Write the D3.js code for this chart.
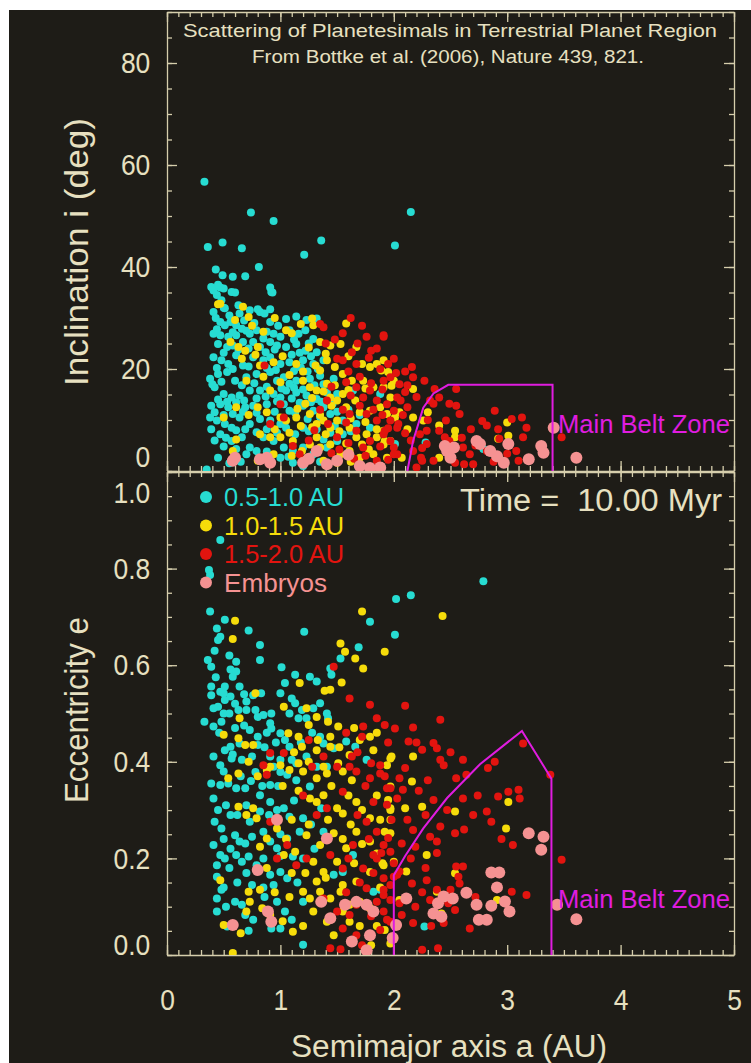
<!DOCTYPE html>
<html>
<head>
<meta charset="utf-8">
<script src="https://cdn.jsdelivr.net/npm/d3@7"></script>
<style>
  body { margin: 0; background: #fff; }
  text { font-family: "Liberation Sans", Arial, sans-serif; }
</style>
</head>
<body>
<script>
// ---- data (a in AU, i in deg, e), flat [a, y, a, y, ...] ----
var cyanInc = [
0.33,56.7, 0.74,50.7, 0.94,49.0, 0.36,43.9, 0.49,44.8, 0.66,43.7, 1.21,42.4, 1.36,45.2, 2.01,44.2, 2.15,50.8,
0.43,39.5, 0.81,40.0, 0.49,38.4, 0.58,38.1, 0.69,38.2, 0.41,35.4, 0.47,36.0, 0.60,35.0, 0.91,36.0, 0.93,35.0,
0.50,32.0, 0.80,31.7, 0.91,31.7, 0.39,36.1, 0.45,36.5, 0.50,35.8, 0.57,35.1, 0.44,34.5, 0.48,33.5, 0.92,35.1,
0.41,31.2, 0.51,31.9, 0.63,32.5, 0.64,30.9, 0.73,31.5, 0.82,31.2, 0.86,30.9, 0.91,29.2, 1.14,30.3, 1.23,29.6,
1.32,29.9, 0.47,29.2, 0.51,28.6, 0.56,29.2, 0.61,28.6, 0.66,27.9, 0.41,26.9, 0.47,26.6, 0.54,26.3, 0.61,26.6,
0.73,26.9, 0.79,27.6, 0.88,27.3, 0.94,26.9, 1.00,26.3, 1.08,27.6, 1.16,26.9, 1.22,27.6, 1.29,25.9, 0.45,24.9,
0.53,24.3, 0.58,24.6, 0.67,25.3, 0.76,25.3, 0.82,24.3, 0.91,25.3, 0.97,24.6, 1.05,24.3, 1.14,24.9, 1.22,23.6,
1.32,23.3, 0.41,22.3, 0.48,21.7, 0.54,21.0, 0.61,22.7, 0.67,20.7, 0.76,22.3, 0.85,21.7, 0.91,22.3, 1.00,21.0,
1.08,21.3, 1.20,21.7, 1.29,21.0, 1.38,21.7, 0.38,18.1, 0.45,19.0, 0.53,19.4, 0.60,17.7, 0.70,18.4, 0.79,19.0,
0.91,19.4, 0.97,17.7, 1.03,18.4, 1.08,17.1, 1.14,17.7, 1.26,18.1, 1.35,18.7, 1.47,18.1, 0.42,16.4, 0.50,15.1,
0.57,14.4, 0.64,14.8, 0.73,15.8, 0.82,15.8, 0.94,15.1, 1.00,14.4, 1.05,15.8, 1.14,15.4, 1.23,14.8, 1.32,14.1,
1.41,15.4, 1.50,15.1, 1.64,15.8, 1.79,16.4, 0.39,12.8, 0.47,13.1, 0.54,12.5, 0.61,13.5, 0.69,12.5, 0.76,12.8,
0.88,13.1, 1.03,13.1, 1.08,11.8, 1.20,12.8, 1.29,11.8, 1.38,12.5, 1.44,11.2, 1.55,9.9, 1.67,9.2, 1.79,8.5,
0.38,10.5, 0.44,9.9, 0.51,9.2, 0.57,8.5, 0.64,10.5, 0.73,9.2, 0.82,10.2, 0.91,9.9, 1.00,9.2, 1.05,8.5,
1.20,8.5, 1.32,8.2, 1.44,7.5, 1.55,7.2, 0.39,8.2, 0.47,7.2, 0.57,5.9, 0.66,6.6, 0.73,4.6, 0.85,6.6,
0.94,5.9, 1.03,4.6, 1.11,3.9, 1.20,4.6, 1.29,3.3, 1.41,4.6, 1.50,5.9, 0.45,2.6, 0.61,4.3, 0.70,3.3,
0.79,3.9, 1.00,2.6, 1.11,1.6, 1.20,1.0, 0.35,0.3, 1.88,15.1, 2.01,5.3, 2.28,5.6, 2.79,4.3, 1.60,12.0,
1.70,11.0,
0.43,30.0, 0.55,30.5, 0.68,29.5, 0.77,29.0, 0.98,28.5, 1.05,29.8, 0.44,27.8, 0.58,27.2, 0.70,27.5, 0.85,26.0,
1.12,25.8, 1.25,25.0, 0.50,23.2, 0.63,23.8, 0.72,24.0, 0.87,23.3, 0.95,23.8, 1.10,22.8, 1.17,23.2, 1.27,22.5,
0.44,20.2, 0.58,20.0, 0.72,20.5, 0.88,20.2, 0.96,19.8, 1.12,19.6, 1.18,20.3, 1.24,19.5, 1.33,20.0, 0.40,17.0,
0.48,17.5, 0.66,16.8, 0.77,17.2, 0.88,16.5, 1.01,16.2, 1.12,16.3, 1.20,16.0, 1.30,16.8, 1.38,17.0, 0.45,14.0,
0.53,13.6, 0.68,13.8, 0.79,14.2, 0.87,14.6, 0.97,13.7, 1.10,14.2, 1.17,13.4, 1.27,13.5, 1.36,13.6, 1.46,13.2,
0.42,11.5, 0.50,11.0, 0.58,11.2, 0.67,11.6, 0.79,11.4, 0.95,11.6, 1.13,11.4, 1.24,10.2, 1.35,10.6, 1.50,11.6,
0.42,6.0, 0.52,6.5, 0.61,8.0, 0.69,8.2, 0.79,7.6, 0.88,8.2, 0.97,7.5, 1.13,7.2, 1.25,7.8, 1.38,6.2,
0.50,4.8, 0.55,1.5, 0.65,1.8, 0.88,3.8, 1.07,2.8, 1.35,1.8, 1.48,8.8, 1.62,7.8
];
var yellowInc = [
0.45,32.7, 0.67,32.2, 0.47,32.8, 0.72,30.2, 0.56,25.3, 0.63,24.3, 0.69,23.6, 0.80,24.3, 0.82,20.7, 0.85,27.3,
0.94,21.3, 1.05,27.6, 1.28,29.9, 1.29,28.6, 1.35,25.3, 1.44,24.6, 1.53,24.9, 1.58,28.9, 1.67,24.3, 1.72,21.0,
1.79,20.4, 1.85,21.0, 1.91,21.7, 1.95,19.4, 2.00,17.7, 1.31,20.7, 1.35,19.7, 1.41,21.7, 1.48,20.4, 1.55,19.0,
1.63,17.7, 1.73,17.7, 1.82,16.4, 1.91,16.4, 1.97,14.4, 0.70,17.7, 0.91,15.8, 1.00,17.4, 1.20,17.7, 1.26,16.4,
1.32,15.8, 1.41,17.1, 1.44,14.4, 1.50,13.8, 1.55,15.1, 1.58,12.5, 1.66,13.8, 1.70,11.5, 1.79,11.8, 1.88,12.5,
1.94,11.2, 2.01,10.5, 0.50,10.5, 0.61,12.5, 0.80,12.5, 0.88,11.5, 1.00,10.5, 1.05,9.9, 1.14,10.5, 1.26,11.2,
1.32,9.2, 1.38,9.9, 1.44,8.5, 1.50,9.9, 1.61,8.5, 1.67,6.6, 1.76,7.2, 1.85,6.6, 1.91,5.2, 1.97,5.9,
0.61,6.2, 0.82,7.2, 0.91,6.6, 0.94,3.3, 1.00,6.6, 1.11,5.9, 1.19,3.9, 1.26,5.2, 1.32,6.6, 1.35,4.6,
1.44,5.2, 1.53,3.3, 1.61,3.9, 1.70,2.6, 1.82,3.3, 1.94,2.6, 0.58,3.9, 0.80,2.0, 1.38,2.0, 1.50,1.6,
1.88,1.0, 1.89,19.7, 1.98,16.7, 2.17,16.1, 2.05,11.5, 2.17,10.5, 2.26,9.9, 2.30,11.5, 2.40,8.9, 2.54,7.9,
2.54,6.6, 3.00,9.5, 3.01,6.9, 2.92,6.3, 1.92,5.9, 2.07,2.6, 2.40,2.6, 1.91,7.9,
0.60,29.6, 0.75,28.5, 0.95,30.0, 1.10,27.0, 1.18,28.8, 0.66,22.0, 0.78,22.8, 1.02,22.5, 1.14,21.0, 1.25,24.2,
1.40,23.0, 1.60,22.5, 1.20,19.5, 1.08,18.8, 0.85,18.5, 1.28,14.3, 1.38,15.6, 1.48,16.8, 1.60,15.9, 1.75,16.2,
1.15,12.2, 1.22,13.2, 1.35,11.0, 1.45,12.8, 1.62,10.3, 1.75,9.6, 1.85,8.2, 0.72,11.0, 0.95,8.2, 1.08,7.5,
1.18,8.8, 1.28,8.6, 1.40,7.2, 1.52,7.8, 1.58,5.4, 1.72,5.2, 1.10,3.0, 1.22,2.2, 1.62,1.8, 1.78,4.2,
2.12,8.2
];
var redInc = [
1.38,28.2, 1.76,26.3, 1.91,26.6, 1.80,23.6, 1.63,23.3, 1.50,22.0, 1.55,21.7, 1.67,21.0, 0.86,20.7, 1.91,17.7,
1.79,15.8, 1.67,16.4, 1.58,17.4, 1.41,13.8, 1.73,14.4, 1.85,13.8, 1.94,13.1, 2.03,14.4, 1.76,11.2, 1.85,9.9,
1.97,9.9, 2.03,8.5, 1.61,11.2, 1.67,7.9, 1.79,5.9, 1.91,7.2, 2.00,4.6, 1.73,4.6, 1.85,2.0, 2.03,3.3,
1.11,4.9, 1.17,3.3, 1.50,6.6, 1.03,10.5, 1.00,13.1, 0.91,9.2, 1.35,28.8,
1.55,27.0, 1.62,30.0, 1.72,28.5, 1.40,25.0, 1.85,24.0, 2.00,22.0, 2.10,19.5, 1.95,21.0, 1.60,19.5, 1.70,18.5,
1.45,16.5, 1.55,12.0, 1.90,16.0, 2.10,15.5, 2.05,17.0, 1.35,12.0, 1.30,8.0, 1.25,6.0, 1.60,5.5, 1.75,3.0,
1.45,3.5, 1.90,11.0, 2.12,12.5, 2.15,6.0, 2.25,4.5,
1.91,26.3, 2.16,20.4, 2.17,18.4, 2.27,17.7, 2.36,16.1, 2.55,16.1, 2.40,14.4, 2.49,13.2, 2.55,12.8, 2.35,13.2,
2.58,11.2, 2.46,9.9, 2.68,8.2, 2.89,11.8, 2.82,8.9, 2.92,8.2, 3.04,10.2, 3.13,10.5, 3.17,8.5, 3.14,6.6,
3.48,6.6, 2.61,4.6, 2.67,3.3, 2.62,1.3, 2.54,1.6, 2.70,1.3, 2.82,3.9, 2.93,6.3, 3.08,3.9, 3.10,2.0,
2.29,5.3, 2.23,7.2, 2.29,7.9, 2.40,7.9, 2.45,6.6, 2.49,5.9, 2.17,3.9, 2.24,2.6, 2.35,2.0, 2.20,0.7,
1.97,18.4, 2.06,13.8, 2.00,11.8, 2.04,9.2, 1.92,7.9, 1.97,5.9, 2.00,3.3,
1.48,25.8, 1.68,25.0, 1.78,22.2, 1.88,20.0, 2.02,19.2, 1.62,14.8, 1.80,17.2, 1.70,12.8, 1.82,12.0, 2.08,11.0,
1.95,8.4, 1.88,4.8, 1.95,2.2, 1.65,2.4, 1.58,9.5, 2.10,7.4, 2.30,10.0, 2.32,13.8, 2.20,14.5, 2.12,16.8,
2.25,2.0, 2.60,6.5, 2.72,5.0, 2.78,9.8, 3.00,3.4, 2.88,1.8, 1.42,9.2, 1.52,4.2
];
var embryoInc = [
0.60,2.6, 0.58,2.0, 0.82,2.3, 0.88,2.6, 0.91,1.6, 1.20,1.6, 1.25,2.4, 1.32,3.9, 1.41,1.3, 1.50,2.0,
1.60,3.2, 1.70,1.0, 1.79,0.6, 1.88,0.7, 2.45,4.9, 2.47,3.9, 2.50,2.6, 2.53,4.6, 2.73,5.9, 2.76,5.3,
2.85,3.9, 2.91,2.9, 2.97,1.6, 3.01,5.3, 3.19,2.3, 3.30,4.9, 3.32,3.6, 3.41,8.5, 3.61,2.6
];

var cyanEcc = [
0.47,0.859, 0.37,0.797, 0.38,0.787, 2.79,0.774, 2.02,0.737, 2.15,0.745,
0.38,0.711, 0.51,0.694, 0.44,0.676, 0.47,0.659, 0.45,0.652, 0.72,0.672, 0.82,0.642, 0.82,0.611, 0.36,0.611, 0.39,0.597,
0.61,0.607, 0.56,0.591, 0.61,0.587, 0.58,0.576, 1.01,0.596, 1.13,0.580, 1.26,0.576, 1.32,0.566, 1.44,0.593, 1.45,0.580,
1.53,0.614, 1.69,0.637, 1.79,0.690, 2.01,0.663, 1.21,0.669, 0.39,0.556, 0.51,0.556, 0.39,0.538, 0.50,0.542,
0.64,0.556, 0.56,0.535, 0.51,0.528, 0.45,0.514, 0.41,0.511, 0.70,0.525, 0.83,0.542, 0.76,0.538, 1.00,0.542, 1.04,0.563,
1.10,0.531, 1.13,0.521, 1.19,0.507, 0.33,0.483, 0.41,0.473, 0.50,0.500, 0.48,0.483, 0.63,0.507, 0.70,0.507, 0.78,0.507,
0.80,0.493, 0.85,0.497, 0.91,0.480, 0.92,0.500, 0.73,0.466, 0.80,0.452, 0.92,0.469, 1.08,0.500, 1.16,0.490, 1.23,0.490,
1.29,0.511, 1.35,0.521, 1.41,0.500, 1.42,0.490, 0.56,0.431, 0.51,0.424, 0.64,0.438, 0.80,0.435, 1.00,0.459, 1.04,0.445,
1.08,0.431, 1.35,0.452, 1.38,0.438, 1.58,0.442, 1.66,0.431, 1.47,0.428, 0.41,0.411, 0.47,0.393, 0.57,0.407, 0.66,0.404,
0.75,0.411, 0.91,0.411, 1.00,0.404, 1.10,0.404, 1.14,0.397, 1.23,0.411, 1.32,0.390, 1.41,0.390, 1.76,0.404,
0.39,0.355, 0.47,0.352, 0.54,0.355, 0.61,0.345, 0.69,0.345, 0.41,0.324, 0.42,0.276, 0.48,0.262, 0.56,0.290, 0.60,0.248,
0.64,0.235, 0.41,0.228, 0.47,0.207, 0.44,0.186, 0.51,0.200, 0.61,0.207, 0.66,0.193, 0.72,0.204, 0.79,0.186, 0.82,0.297,
0.82,0.331, 0.91,0.352, 0.78,0.379, 0.94,0.390, 1.00,0.379, 1.06,0.373, 1.14,0.362, 1.26,0.349, 0.91,0.317, 1.03,0.304,
1.08,0.286, 1.20,0.283, 1.17,0.255, 1.06,0.241, 0.97,0.221, 0.85,0.255, 0.73,0.276, 0.69,0.231, 1.11,0.204, 1.20,0.200,
1.00,0.172, 0.91,0.166, 0.94,0.145, 1.06,0.159, 1.36,0.304, 1.38,0.255, 1.47,0.166, 1.55,0.172, 1.64,0.207, 0.44,0.162,
0.48,0.135, 0.44,0.117, 0.44,0.090, 0.60,0.110, 0.66,0.104, 0.69,0.083, 0.76,0.073, 0.53,0.059, 1.04,0.090, 1.10,0.073,
1.00,0.055, 1.20,0.021, 0.92,0.055, 1.82,0.131, 1.88,0.135, 2.27,0.059,
0.42,0.630, 0.55,0.620, 0.43,0.575, 0.47,0.545, 0.60,0.520, 0.68,0.540, 0.55,0.500, 0.46,0.460, 0.60,0.470, 0.68,0.475,
0.88,0.460, 0.96,0.440, 0.58,0.415, 0.86,0.430, 1.18,0.440, 1.28,0.460, 0.50,0.380, 0.65,0.370, 0.74,0.360, 0.84,0.350,
0.98,0.350, 0.45,0.300, 0.52,0.310, 0.62,0.290, 0.70,0.310, 0.90,0.290, 0.97,0.300, 1.12,0.320, 0.50,0.240, 0.56,0.220,
0.75,0.245, 0.91,0.235, 1.00,0.250, 1.27,0.270, 0.55,0.180, 0.70,0.170, 0.85,0.200, 1.00,0.205, 1.30,0.220, 0.50,0.140,
0.62,0.150, 0.75,0.145, 0.85,0.140, 1.15,0.150, 0.52,0.100, 0.72,0.050, 0.86,0.120, 0.97,0.110, 1.20,0.110
];
var yellowEcc = [
2.43,0.702, 0.60,0.692, 0.58,0.654, 1.72,0.711, 1.53,0.645, 1.57,0.628, 1.66,0.614, 1.73,0.593, 1.92,0.628, 1.44,0.549,
1.39,0.547, 1.54,0.564, 1.17,0.563, 0.78,0.542, 1.03,0.514, 1.23,0.511, 1.32,0.493, 1.42,0.483, 0.64,0.490, 0.50,0.456,
0.63,0.449, 0.69,0.435, 0.76,0.435, 1.07,0.459, 1.16,0.452, 1.19,0.431, 1.25,0.476, 1.33,0.445, 1.44,0.452, 1.51,0.473,
1.70,0.445, 1.79,0.452, 1.32,0.424, 1.44,0.431, 1.51,0.397, 1.61,0.414, 1.82,0.424, 1.97,0.407, 1.94,0.393, 0.91,0.390,
1.00,0.393, 1.16,0.397,
0.54,0.366, 0.63,0.376, 0.88,0.383, 1.08,0.383, 1.20,0.380, 1.32,0.366, 1.41,0.376, 1.55,0.380, 1.63,0.362, 1.26,0.324,
1.32,0.317, 1.50,0.304, 1.55,0.293, 1.38,0.331, 1.67,0.317, 1.79,0.283, 1.97,0.304, 1.92,0.255, 1.79,0.235, 1.67,0.255,
1.58,0.221, 1.47,0.252, 1.35,0.228, 1.23,0.248, 0.82,0.224, 0.79,0.283, 0.88,0.241, 0.97,0.262, 0.63,0.307, 0.70,0.290,
0.76,0.304, 1.03,0.207, 1.13,0.214, 1.29,0.193, 1.38,0.172, 1.50,0.193, 1.55,0.145, 1.67,0.152, 1.79,0.172, 1.91,0.186,
1.32,0.152, 1.20,0.131, 1.26,0.117, 1.35,0.131, 1.44,0.117, 1.53,0.131, 1.61,0.104, 1.70,0.110, 1.79,0.097, 0.72,0.131,
0.82,0.135, 0.73,0.110, 0.70,0.090, 0.50,0.062, 0.58,0.062, 0.84,0.097, 0.91,0.083, 1.11,0.048, 1.29,0.090, 1.41,0.069,
1.61,0.069, 1.47,0.041, 0.47,0.155, 0.58,0.004, 1.80,0.020,
1.98,0.411, 2.17,0.411, 2.16,0.359, 1.97,0.349, 1.95,0.321, 2.10,0.304, 1.97,0.300, 2.25,0.307, 2.54,0.297,
1.97,0.280, 1.97,0.252, 2.29,0.207, 2.00,0.193, 1.90,0.190, 2.11,0.173, 2.54,0.169, 3.01,0.317, 2.99,0.262, 2.38,0.131,
2.42,0.086, 2.91,0.114, 2.05,0.114, 1.92,0.052, 1.97,0.024,
0.72,0.400, 0.80,0.370, 1.12,0.420, 1.25,0.400, 1.38,0.390, 1.52,0.430, 1.65,0.470, 1.85,0.460, 1.02,0.350, 1.16,0.340,
1.45,0.350, 1.60,0.330, 1.72,0.300, 1.85,0.330, 1.10,0.280, 1.25,0.270, 1.42,0.280, 1.62,0.270, 1.88,0.280, 1.05,0.240,
1.55,0.240, 1.72,0.230, 1.10,0.170, 1.22,0.170, 1.65,0.190, 1.85,0.210, 0.88,0.180, 0.95,0.130, 1.08,0.120, 1.40,0.160,
1.88,0.140, 1.02,0.070, 1.20,0.060, 1.55,0.090, 1.70,0.060, 0.65,0.045, 1.85,0.060
];
var redEcc = [
1.47,0.597, 1.61,0.531, 1.79,0.518, 1.73,0.473, 1.92,0.476, 2.01,0.469, 1.72,0.452, 0.91,0.418, 1.03,0.418, 1.25,0.445,
1.38,0.411, 1.63,0.411, 1.80,0.397, 1.88,0.393, 1.50,0.390, 1.61,0.390, 1.28,0.390, 0.85,0.393,
0.88,0.373, 1.67,0.380, 1.79,0.366, 1.88,0.376, 1.97,0.345, 1.55,0.338, 1.41,0.304, 1.82,0.317, 1.94,0.311, 2.03,0.324,
1.76,0.276, 1.85,0.255, 1.64,0.228, 1.91,0.228, 1.85,0.200, 1.97,0.214, 1.06,0.228, 0.91,0.276, 1.23,0.200, 1.44,0.207,
1.55,0.179, 1.73,0.179, 1.82,0.207, 1.91,0.159, 1.97,0.145, 2.03,0.166, 1.76,0.138, 1.85,0.110, 1.91,0.124, 1.67,0.104,
1.50,0.090, 1.61,0.083, 1.91,0.090, 1.97,0.069, 1.88,0.052, 1.55,0.055, 1.67,0.041, 1.44,0.014, 1.38,0.117, 1.14,0.186,
0.97,0.200, 1.53,0.012,
2.10,0.516, 2.41,0.487, 2.17,0.471, 2.13,0.442, 2.35,0.439, 2.38,0.428, 2.25,0.425, 2.41,0.404,
2.44,0.393, 2.61,0.404, 2.89,0.400, 2.83,0.387, 2.64,0.373, 2.55,0.366, 2.30,0.362, 2.10,0.387, 2.05,0.366, 1.94,0.345,
2.08,0.342, 2.35,0.321, 2.61,0.324, 2.92,0.328, 3.01,0.338, 3.10,0.342, 3.11,0.324, 2.47,0.300, 2.70,0.290, 2.82,0.297,
2.86,0.276, 2.41,0.266, 2.54,0.252, 2.32,0.245, 2.38,0.235, 2.17,0.259, 2.19,0.224, 1.95,0.242, 1.89,0.211, 2.07,0.231,
2.38,0.211, 3.05,0.228, 3.48,0.197, 2.55,0.183, 2.61,0.183, 2.05,0.173, 2.00,0.162, 2.16,0.148, 2.29,0.155, 2.38,0.135,
2.50,0.135, 2.57,0.162, 2.58,0.148, 3.04,0.131, 3.17,0.124, 2.32,0.114, 2.48,0.107, 2.54,0.093, 2.44,0.066, 2.67,0.055,
1.91,0.135, 1.97,0.114, 2.05,0.107, 2.07,0.083, 2.19,0.100, 2.17,0.066, 1.94,0.073, 2.25,0.011, 2.39,0.014, 3.14,0.438,
3.38,0.373,
1.58,0.460, 1.85,0.490, 1.68,0.420, 1.95,0.440, 1.75,0.350, 1.92,0.370, 1.68,0.290, 1.98,0.280, 1.78,0.240, 1.60,0.200,
1.70,0.150, 1.82,0.170, 2.00,0.190, 1.58,0.130, 1.80,0.080, 1.72,0.020, 2.12,0.280, 2.22,0.340, 2.28,0.290, 2.15,0.200,
2.28,0.180, 2.33,0.060, 2.62,0.260, 2.74,0.330, 2.95,0.240, 2.20,0.440, 2.50,0.420, 2.72,0.120, 2.25,0.130, 1.32,0.290,
1.20,0.330
];
var embryoEcc = [
0.97,0.280, 0.80,0.176, 0.89,0.090, 0.92,0.069, 0.58,0.062, 1.36,0.110, 1.44,0.076, 1.57,0.104, 1.67,0.110, 1.76,0.104,
1.82,0.090, 1.63,0.028, 1.76,0.010, 1.79,0.041, 1.41,0.241,
3.19,0.252, 3.32,0.245, 3.30,0.218, 2.86,0.171, 2.93,0.171, 2.91,0.140, 2.64,0.129, 2.73,0.104, 2.86,0.102, 2.98,0.111,
3.02,0.090, 2.39,0.107, 2.44,0.121, 2.52,0.117, 2.35,0.086, 2.42,0.079, 2.11,0.117, 2.02,0.062, 1.99,0.035, 2.75,0.073,
2.82,0.073, 3.44,0.104, 3.61,0.074
];

// main belt zone outlines
var beltInc = [2.12,0, 2.17,5.9, 2.26,12.4, 2.35,15.2, 2.48,16.9, 3.40,16.9, 3.40,0];
var beltEcc = [2.00,0, 2.00,0.165, 2.10,0.205, 2.26,0.262, 2.47,0.325, 2.76,0.395, 3.13,0.464, 3.39,0.365, 3.39,0];

var incTicks = [0, 20, 40, 60, 80];
var eccTicks = [0, 0.2, 0.4, 0.6, 0.8, 1.0];
var aTicks = [0, 1, 2, 3, 4, 5];

var legendLabels = ["0.5-1.0 AU", "1.0-1.5 AU", "1.5-2.0 AU", "Embryos"];
var colors = ["#27dcd2", "#f6dc0a", "#e2140f", "#f59292"];

// ---- layout ----
var width = 751, height = 1063;
var left = 167, right = 734;
var ink = "#e7e0c0", axisInk = "#d6ceac", magenta = "#e01ce0";

function pairs(flat) {
	return d3.range(0, flat.length, 2).map(k => [flat[k], flat[k + 1]]);
}

var svg = d3.select("body").append("svg")
	.attr("width", width)
	.attr("height", height);

svg.append("rect").attr("width", width).attr("height", height).attr("fill", "#fff");
svg.append("rect").attr("x", 9).attr("y", 10)
	.attr("width", width - 9).attr("height", height - 10)
	.attr("fill", "#1e1c17");

var x = d3.scaleLinear().domain([0, 5]).range([left, right]);
var yI = d3.scaleLinear().domain([0, 90]).range([471, 12]);
var yE = d3.scaleLinear().domain([0, 1]).range([955, 472]);

// clip paths for the two panels
var defs = svg.append("defs");
defs.append("clipPath").attr("id", "clipTop").append("rect")
	.attr("x", left).attr("y", 12).attr("width", right - left).attr("height", 459);
defs.append("clipPath").attr("id", "clipBot").append("rect")
	.attr("x", left).attr("y", 472).attr("width", right - left).attr("height", 483);

function styleAxis(g) {
	g.selectAll("path, line").attr("stroke", axisInk).attr("stroke-width", 1.3);
	g.selectAll("text").attr("fill", ink).style("font-size", "30px")
		.attr("transform", "scale(0.88,1)")
		.style("font-family", "Liberation Sans, Arial, sans-serif");
}

// draws the frame of one panel: inward ticks all round
function frame(yScale, majors, minors, yTop, yBot, fmt, labelX) {
	var g = svg.append("g");

	var lMaj = g.append("g").attr("transform", `translate(${left},0)`)
		.call(d3.axisLeft(yScale).tickValues(majors).tickSizeInner(-10).tickSizeOuter(0)
			.tickPadding(19).tickFormat(fmt));
	g.append("g").attr("transform", `translate(${left},0)`)
		.call(d3.axisLeft(yScale).tickValues(minors).tickSize(-5).tickFormat(""))
		.select(".domain").remove();
	g.append("g").attr("transform", `translate(${right},0)`)
		.call(d3.axisRight(yScale).tickValues(majors).tickSizeInner(-10).tickSizeOuter(0).tickFormat(""));
	g.append("g").attr("transform", `translate(${right},0)`)
		.call(d3.axisRight(yScale).tickValues(minors).tickSize(-5).tickFormat(""))
		.select(".domain").remove();

	var xMinor = d3.range(0, 50.5, 1).map(v => v / 10);
	g.append("g").attr("transform", `translate(0,${yTop})`)
		.call(d3.axisTop(x).tickValues(aTicks).tickSizeInner(-10).tickSizeOuter(0).tickFormat(""));
	g.append("g").attr("transform", `translate(0,${yTop})`)
		.call(d3.axisTop(x).tickValues(xMinor).tickSize(-5).tickFormat(""))
		.select(".domain").remove();
	var bMaj = g.append("g").attr("transform", `translate(0,${yBot})`)
		.call(d3.axisBottom(x).tickValues(aTicks).tickSizeInner(-10).tickSizeOuter(0)
			.tickPadding(34).tickFormat(labelX ? d3.format("d") : ""));
	g.append("g").attr("transform", `translate(0,${yBot})`)
		.call(d3.axisBottom(x).tickValues(xMinor).tickSize(-5).tickFormat(""))
		.select(".domain").remove();

	g.call(styleAxis);
	return {g: g, left: lMaj, bottom: bMaj};
}

var topFrame = frame(yI, incTicks, d3.range(0, 91, 5), 12, 471, d3.format("d"), false);
var botFrame = frame(yE, eccTicks, d3.range(0, 21, 1).map(v => v / 20), 472, 955, d3.format(".1f"), true);

// IDL nudges the edge labels inside the panel
topFrame.left.selectAll(".tick text").filter(d => d === 0).attr("dy", "-0.15em");
botFrame.left.selectAll(".tick text").filter(d => d === 1).attr("dy", "1.02em");
botFrame.left.selectAll(".tick text").filter(d => d === 0).attr("dy", "-0.02em");

// ---- points ----
function drawDots(clip, flat, yScale, color, r) {
	svg.append("g").attr("clip-path", `url(#${clip})`)
		.selectAll("circle")
		.data(pairs(flat))
		.join("circle")
			.attr("cx", d => x(d[0]))
			.attr("cy", d => yScale(d[1]))
			.attr("r", r)
			.attr("fill", color);
}

drawDots("clipTop", cyanInc, yI, colors[0], 4);
drawDots("clipTop", yellowInc, yI, colors[1], 4);
drawDots("clipTop", redInc, yI, colors[2], 4);
drawDots("clipTop", embryoInc, yI, colors[3], 6);

drawDots("clipBot", cyanEcc, yE, colors[0], 4);
drawDots("clipBot", yellowEcc, yE, colors[1], 4);
drawDots("clipBot", redEcc, yE, colors[2], 4);
drawDots("clipBot", embryoEcc, yE, colors[3], 6);

// ---- main belt zone ----
svg.append("path").datum(pairs(beltInc))
	.attr("d", d3.line().x(d => x(d[0])).y(d => yI(d[1])))
	.attr("fill", "none").attr("stroke", magenta).attr("stroke-width", 2);
svg.append("path").datum(pairs(beltEcc))
	.attr("d", d3.line().x(d => x(d[0])).y(d => yE(d[1])))
	.attr("fill", "none").attr("stroke", magenta).attr("stroke-width", 2);

svg.append("text").text("Main Belt Zone")
	.attr("x", 558).attr("y", 433)
	.attr("textLength", 172).attr("lengthAdjust", "spacingAndGlyphs")
	.attr("fill", magenta).style("font-size", "26px");
svg.append("text").text("Main Belt Zone")
	.attr("x", 558).attr("y", 908)
	.attr("textLength", 172).attr("lengthAdjust", "spacingAndGlyphs")
	.attr("fill", magenta).style("font-size", "26px");

// ---- legend ----
var legend = svg.append("g");
legendLabels.forEach(function(lab, k) {
	var cy = 497 + k * 28.5;
	legend.append("circle").attr("cx", 206).attr("cy", cy).attr("r", 6).attr("fill", colors[k]);
	legend.append("text").text(lab)
		.attr("x", 224).attr("y", cy + 9)
		.attr("textLength", k == 3 ? 103 : 120).attr("lengthAdjust", "spacingAndGlyphs")
		.attr("fill", colors[k]).style("font-size", "26px");
});

svg.append("text").text("Time =  10.00 Myr")
	.attr("x", 460).attr("y", 511)
	.attr("textLength", 262).attr("lengthAdjust", "spacingAndGlyphs")
	.attr("fill", ink).style("font-size", "31px").style("white-space", "pre");

// ---- titles ----
svg.append("text").text("Scattering of Planetesimals in Terrestrial Planet Region")
	.attr("x", 450).attr("y", 37).attr("text-anchor", "middle")
	.attr("textLength", 534).attr("lengthAdjust", "spacingAndGlyphs")
	.attr("fill", ink).style("font-size", "19px");
svg.append("text").text("From Bottke et al. (2006), Nature 439, 821.")
	.attr("x", 448).attr("y", 63).attr("text-anchor", "middle")
	.attr("textLength", 392).attr("lengthAdjust", "spacingAndGlyphs")
	.attr("fill", ink).style("font-size", "19px");

svg.append("text").text("Semimajor axis a (AU)")
	.attr("x", 449).attr("y", 1057).attr("text-anchor", "middle")
	.attr("textLength", 316).attr("lengthAdjust", "spacingAndGlyphs")
	.attr("fill", ink).style("font-size", "31px");

svg.append("text").text("Inclination i (deg)")
	.attr("transform", "translate(88,252) rotate(-90)")
	.attr("text-anchor", "middle")
	.attr("textLength", 268).attr("lengthAdjust", "spacingAndGlyphs")
	.attr("fill", ink).style("font-size", "34px");
svg.append("text").text("Eccentricity e")
	.attr("transform", "translate(88,710) rotate(-90)")
	.attr("text-anchor", "middle")
	.attr("textLength", 186).attr("lengthAdjust", "spacingAndGlyphs")
	.attr("fill", ink).style("font-size", "34px");
</script>
</body>
</html>
